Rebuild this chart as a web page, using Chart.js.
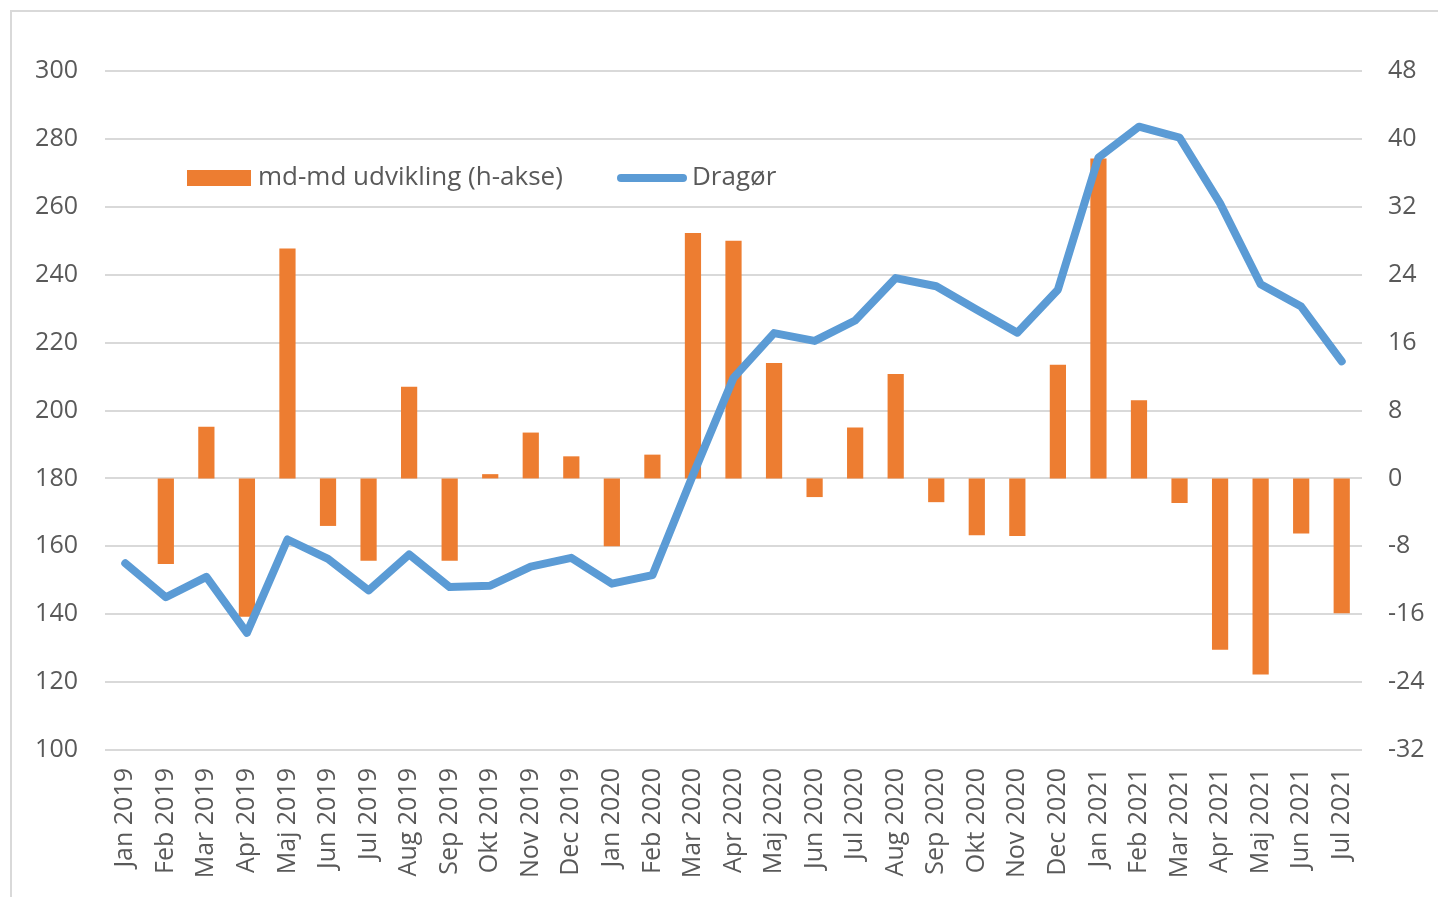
<!DOCTYPE html>
<html>
<head>
<meta charset="utf-8">
<script src="https://cdn.jsdelivr.net/npm/chart.js@4.4.1/dist/chart.umd.min.js"></script>
<style>
    body { margin: 0; background: #fff; }
    #frame {
        position: absolute; left: 10px; top: 10px; width: 1440px; height: 900px;
        border-top: 2px solid #d9d9d9; border-left: 2px solid #d9d9d9;
    }
    #chart { position: absolute; left: 0; top: 0; }
</style>
</head>
<body>
<div id="frame"></div>
<canvas id="chart" width="1438" height="897"></canvas>
<script>
// Months (Danish abbreviations)
const months = [
    'Jan 2019', 'Feb 2019', 'Mar 2019', 'Apr 2019', 'Maj 2019', 'Jun 2019', 'Jul 2019', 'Aug 2019',
    'Sep 2019', 'Okt 2019', 'Nov 2019', 'Dec 2019', 'Jan 2020', 'Feb 2020', 'Mar 2020', 'Apr 2020',
    'Maj 2020', 'Jun 2020', 'Jul 2020', 'Aug 2020', 'Sep 2020', 'Okt 2020', 'Nov 2020', 'Dec 2020',
    'Jan 2021', 'Feb 2021', 'Mar 2021', 'Apr 2021', 'Maj 2021', 'Jun 2021', 'Jul 2021'
];

// Dragør level (left axis)
const dragoer = [
    155, 145, 151, 134.5, 162, 156.3, 147, 157.6, 148, 148.4, 154, 156.6,
    149, 151.5, 181, 209.6, 222.8, 220.5, 226.5, 239, 236.6, 229.7, 222.9, 235.6,
    274.5, 283.6, 280.4, 261, 237.2, 230.6, 214.5
];

// month-on-month change (right axis)
const mdmd = [
    null, -10.1, 6.1, -16.3, 27.1, -5.6, -9.7, 10.8, -9.7, 0.5, 5.4, 2.6,
    -8.0, 2.8, 28.9, 28.0, 13.6, -2.2, 6.0, 12.3, -2.8, -6.7, -6.8, 13.4,
    37.7, 9.2, -2.9, -20.2, -23.1, -6.5, -15.9
];

const leftTicks = { min: 100, max: 300, step: 20 };
const rightTicks = { min: -32, max: 48, step: 8 };

const ORANGE = '#ED7D31';
const BLUE = '#5B9BD5';
const TEXT = '#595959';
const FONT = "'Open Sans', sans-serif";

// Legend drawn inside the plot area, like the Excel original
const insideLegend = {
    id: 'insideLegend',
    afterDatasetsDraw(chart) {
        const ctx = chart.ctx;
        const area = chart.chartArea;
        const x0 = area.left + 82;
        const y = area.top + 107;
        const bars = chart.data.datasets[1];
        const line = chart.data.datasets[0];

        ctx.save();
        ctx.font = '26px ' + FONT;
        ctx.textBaseline = 'middle';

        ctx.fillStyle = bars.backgroundColor;
        ctx.fillRect(x0, y - 8, 64, 16);
        ctx.fillStyle = TEXT;
        ctx.fillText(bars.label, x0 + 71, y);

        const lx = x0 + 434;
        ctx.strokeStyle = line.borderColor;
        ctx.lineWidth = 8;
        ctx.lineCap = 'round';
        ctx.beginPath();
        ctx.moveTo(lx, y);
        ctx.lineTo(lx + 62, y);
        ctx.stroke();
        ctx.fillText(line.label, lx + 71, y);
        ctx.restore();
    }
};

new Chart(document.getElementById('chart'), {
    type: 'bar',
    data: {
        labels: months,
        datasets: [{
            type: 'line',
            label: 'Dragør',
            data: dragoer,
            yAxisID: 'y',
            borderColor: BLUE,
            backgroundColor: BLUE,
            borderWidth: 8,
            borderCapStyle: 'round',
            borderJoinStyle: 'round',
            pointRadius: 0,
            tension: 0,
            order: 0
        }, {
            type: 'bar',
            label: 'md-md udvikling (h-akse)',
            data: mdmd,
            yAxisID: 'y1',
            backgroundColor: ORANGE,
            barPercentage: 0.4,
            categoryPercentage: 1.0,
            order: 1
        }]
    },
    options: {
        responsive: false,
        animation: false,
        devicePixelRatio: 1,
        layout: { padding: { top: 71, left: 0, right: 0, bottom: 0 } },
        plugins: {
            legend: { display: false },
            tooltip: { enabled: false }
        },
        scales: {
            x: {
                offset: true,
                grid: { display: false, drawTicks: false },
                border: { display: false },
                ticks: {
                    color: TEXT,
                    font: { family: FONT, size: 25 },
                    maxRotation: 90,
                    minRotation: 90,
                    autoSkip: false,
                    padding: 18
                },
                afterFit(scale) { scale.height = 147; }
            },
            y: {
                position: 'left',
                min: leftTicks.min,
                max: leftTicks.max,
                grid: { color: '#d9d9d9', lineWidth: 2, drawTicks: false },
                border: { display: false },
                ticks: {
                    stepSize: leftTicks.step,
                    color: TEXT,
                    font: { family: FONT, size: 25 },
                    padding: 27
                },
                afterFit(scale) { scale.width = 105; }
            },
            y1: {
                position: 'right',
                min: rightTicks.min,
                max: rightTicks.max,
                grid: { display: false, drawTicks: false },
                border: { display: false },
                ticks: {
                    stepSize: rightTicks.step,
                    color: TEXT,
                    font: { family: FONT, size: 25 },
                    padding: 26
                },
                afterFit(scale) { scale.width = 76; }
            }
        }
    },
    plugins: [insideLegend]
});
</script>
</body>
</html>
